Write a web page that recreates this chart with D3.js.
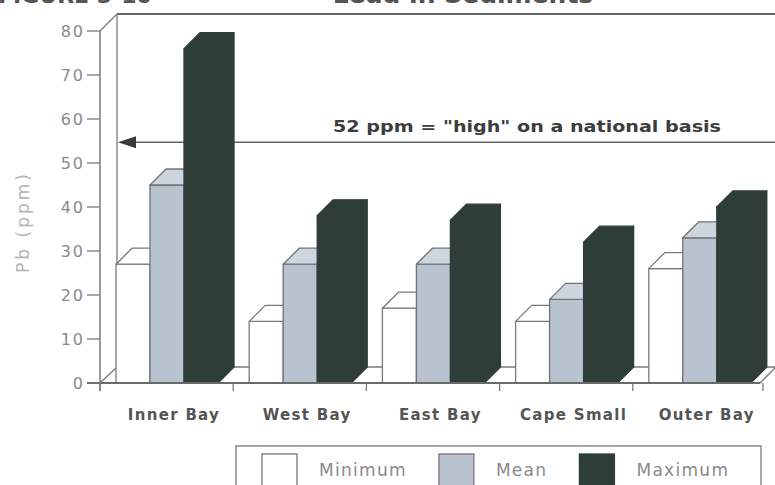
<!DOCTYPE html>
<html>
<head>
<meta charset="utf-8">
<script src="https://cdn.jsdelivr.net/npm/d3@7"></script>
<style>
  html, body { margin: 0; padding: 0; background: #ffffff; }
  svg { display: block; }
</style>
</head>
<body>
<div id="chart"></div>
<script>
// lead in sediments, min / mean / max per station
const sites = ["Inner Bay", "West Bay", "East Bay", "Cape Small", "Outer Bay"];
const series = ["Minimum", "Mean", "Maximum"];
const minimum = [27, 14, 17, 14, 26];
const mean = [45, 27, 27, 19, 33];
const maximum = [76, 38, 37, 32, 40];
const yTicks = [0, 10, 20, 30, 40, 50, 60, 70, 80];
const highLevel = 52;
const highLabel = "52 ppm = \"high\" on a national basis";

const width = 775;
const height = 485;
const depth = 16;

const values = [minimum, mean, maximum];
const rows = sites.map((site, i) => ({
  site,
  bars: series.map((s, j) => ({ series: s, value: values[j][i] }))
}));

const faces = {
  Minimum: { front: "#ffffff", top: "#ffffff", side: "#ffffff", stroke: "#7a7a7a" },
  Mean: { front: "#b8c3cf", top: "#cdd6df", side: "#a9b5c2", stroke: "#6f7378" },
  Maximum: { front: "#2f3d39", top: "#2f3d39", side: "#2f3d39", stroke: "#2f3d39" }
};

const svg = d3.select("#chart").append("svg")
  .attr("width", width)
  .attr("height", height)
  .style("font-family", "'DejaVu Sans', sans-serif");

const y = d3.scaleLinear()
  .domain([0, 80])
  .range([383, 31]);

const x0 = d3.scaleBand()
  .domain(sites)
  .range([100, 766]);

const x1 = d3.scaleBand()
  .domain(series)
  .range([depth, depth + 102]);

const axisColor = "#7a7a7a";

// heading, cut off by the top edge of the scan
svg.append("text")
  .attr("x", -2)
  .attr("y", 2.5)
  .attr("font-size", "22px")
  .attr("font-weight", "700")
  .attr("fill", "#555")
  .text("FIGURE 3-10");

svg.append("text")
  .attr("x", 463)
  .attr("y", 2.5)
  .attr("text-anchor", "middle")
  .attr("font-size", "25px")
  .attr("font-weight", "700")
  .attr("fill", "#555")
  .text("Lead in Sediments");

// floor slab
const floorL = x0.range()[0];
const floorR = x0.range()[1] - 6;
svg.append("path")
  .attr("d", `M${floorL},${y(0)}L${floorL + depth + 1},${y(0) - depth}L${floorR + depth},${y(0) - depth}L${floorR},${y(0)}Z`)
  .attr("fill", "#ffffff")
  .attr("stroke", axisColor)
  .attr("stroke-width", 1.3);

// back wall
svg.append("line")
  .attr("x1", floorL + depth + 1)
  .attr("x2", floorL + depth + 1)
  .attr("y1", y(80) - depth - 1)
  .attr("y2", y(0) - depth)
  .attr("stroke", axisColor)
  .attr("stroke-width", 1.3);

svg.append("line")
  .attr("x1", floorL + depth + 1)
  .attr("x2", width)
  .attr("y1", y(80) - depth - 1)
  .attr("y2", y(80) - depth - 1)
  .attr("stroke", "#666")
  .attr("stroke-width", 2);

svg.append("line")
  .attr("x1", floorL)
  .attr("x2", floorL + depth + 1)
  .attr("y1", y(80))
  .attr("y2", y(80) - depth - 1)
  .attr("stroke", axisColor)
  .attr("stroke-width", 1.3);

// reference line, drawn on the wall behind the bars
const refY = y(highLevel) - 12;
svg.append("line")
  .attr("x1", floorL + depth + 14)
  .attr("x2", width)
  .attr("y1", refY)
  .attr("y2", refY)
  .attr("stroke", "#666")
  .attr("stroke-width", 1.5);

svg.append("path")
  .attr("d", `M${floorL + depth + 2},${refY}L${floorL + depth + 20},${refY - 6}L${floorL + depth + 20},${refY + 6}Z`)
  .attr("fill", "#3a3a3a");

svg.append("text")
  .attr("x", 527)
  .attr("y", refY - 10)
  .attr("text-anchor", "middle")
  .attr("font-size", "15px")
  .attr("font-weight", "700")
  .attr("fill", "#3d3d3d")
  .attr("textLength", 388)
  .attr("lengthAdjust", "spacingAndGlyphs")
  .text(highLabel);

// bars
function barFaces(x, v) {
  const w = x1.bandwidth();
  const top = y(v);
  const base = y(0);
  return {
    front: `M${x},${base}L${x},${top}L${x + w},${top}L${x + w},${base}Z`,
    top: `M${x},${top}L${x + depth},${top - depth}L${x + w + depth},${top - depth}L${x + w},${top}Z`,
    side: `M${x + w},${top}L${x + w + depth},${top - depth}L${x + w + depth},${base - depth}L${x + w},${base}Z`
  };
}

const groups = svg.append("g")
  .selectAll("g")
  .data(rows)
  .join("g")
  .attr("transform", d => `translate(${x0(d.site)},0)`);

const bar = groups.selectAll("g")
  .data(d => d.bars)
  .join("g");

["side", "front", "top"].forEach(face => {
  bar.append("path")
    .attr("d", d => barFaces(x1(d.series), d.value)[face])
    .attr("fill", d => faces[d.series][face])
    .attr("stroke", d => faces[d.series].stroke)
    .attr("stroke-width", 1.3)
    .attr("stroke-linejoin", "round");
});

// front y axis
svg.append("line")
  .attr("x1", floorL)
  .attr("x2", floorL)
  .attr("y1", y(80))
  .attr("y2", y(0) + 8)
  .attr("stroke", axisColor)
  .attr("stroke-width", 1.5);

svg.append("line")
  .attr("x1", floorL - 13)
  .attr("x2", floorR)
  .attr("y1", y(0))
  .attr("y2", y(0))
  .attr("stroke", "#6a6a6a")
  .attr("stroke-width", 1.8);

const yAxis = svg.append("g");

yAxis.selectAll("line")
  .data(yTicks)
  .join("line")
  .attr("x1", floorL - 13)
  .attr("x2", floorL)
  .attr("y1", d => y(d))
  .attr("y2", d => y(d))
  .attr("stroke", axisColor)
  .attr("stroke-width", 1.3);

yAxis.selectAll("text")
  .data(yTicks)
  .join("text")
  .attr("x", floorL - 15)
  .attr("y", d => y(d))
  .attr("dy", "0.36em")
  .attr("text-anchor", "end")
  .attr("font-size", "16px")
  .attr("letter-spacing", "2px")
  .attr("fill", "#8a8a8a")
  .text(d => d);

svg.append("text")
  .attr("transform", "translate(29,222) rotate(-90)")
  .attr("text-anchor", "middle")
  .attr("font-size", "17px")
  .attr("letter-spacing", "3px")
  .attr("fill", "#b3b3b3")
  .text("Pb (ppm)");

// category ticks and labels
const edges = sites.map(s => x0(s)).concat([x0.range()[1] - 3]);
svg.append("g")
  .selectAll("line")
  .data(edges)
  .join("line")
  .attr("x1", d => d)
  .attr("x2", d => d)
  .attr("y1", y(0))
  .attr("y2", y(0) + 8)
  .attr("stroke", axisColor)
  .attr("stroke-width", 1.3);

svg.append("g")
  .selectAll("text")
  .data(sites)
  .join("text")
  .attr("x", d => x0(d) + depth + 58)
  .attr("y", 420)
  .attr("text-anchor", "middle")
  .attr("font-size", "15px")
  .attr("font-weight", "700")
  .attr("letter-spacing", "1.3px")
  .attr("fill", "#555")
  .text(d => d);

// legend: swatch, label, then the next item
const legend = svg.append("g");

legend.append("rect")
  .attr("x", 236)
  .attr("y", 446)
  .attr("width", 525)
  .attr("height", 60)
  .attr("fill", "none")
  .attr("stroke", "#8a8a8a")
  .attr("stroke-width", 1.5);

let cursor = 262;
series.forEach(s => {
  const item = legend.append("g")
    .attr("transform", `translate(${cursor},454)`);

  item.append("rect")
    .attr("width", 35)
    .attr("height", 32)
    .attr("fill", faces[s].front)
    .attr("stroke", s === "Maximum" ? "#2f3d39" : "#777")
    .attr("stroke-width", 1.3);

  const label = item.append("text")
    .attr("x", 57)
    .attr("y", 22)
    .attr("font-size", "17px")
    .attr("letter-spacing", "1.3px")
    .attr("fill", "#8a8a8a")
    .text(s);

  cursor += 57 + label.node().getComputedTextLength() + 32;
});
</script>
</body>
</html>
